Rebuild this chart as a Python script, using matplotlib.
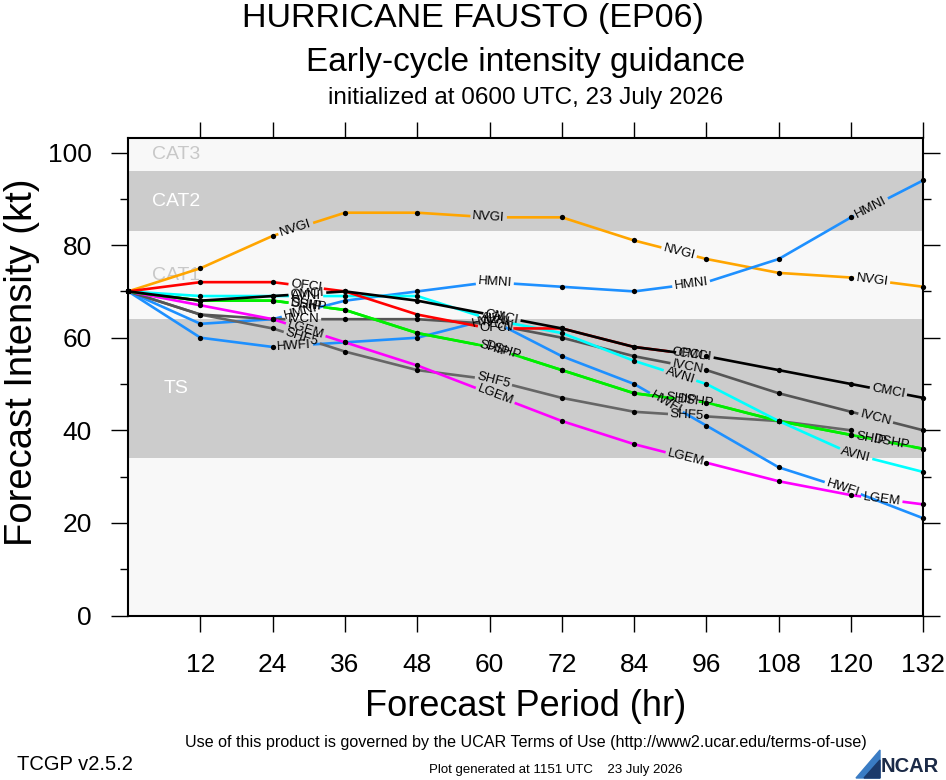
import matplotlib
matplotlib.use('Agg')
import matplotlib.pyplot as plt
from matplotlib.patches import Polygon
import numpy as np

plt.rcParams['font.family'] = ['Liberation Sans', 'DejaVu Sans']

# forecast hours and model intensities (kt)
hours = [0, 12, 24, 36, 48, 60, 72, 84, 96, 108, 120, 132]
nvgi = [70, 75, 82, 87, 87, 86, 86, 81, 77, 74, 73, 71]
hmni = [70, 63, 64, 68, 70, 72, 71, 70, 72, 77, 86, 94]
hwfi = [70, 60, 58, 59, 60, 64, 56, 50, 41, 32, 27, 21]
shf5 = [70, 65, 62, 57, 53, 51, 47, 44, 43, 42, 40]
ivcn = [70, 65, 64, 64, 64, 63, 60, 56, 53, 48, 44, 40]
lgem = [70, 67, 64, 59, 54, 48, 42, 37, 33, 29, 26, 24]
dshp = [70, 68, 68, 66, 61, 58, 53, 48, 46, 42, 39, 36]
ship = [70, 68, 68, 66, 61, 58, 53, 48, 46, 42, 39, 36]
avni = [70, 69, 69, 69, 69, 64, 61, 55, 50, 42, 35, 31]
ofci = [70, 72, 72, 70, 65, 62, 62, 58, 56]
cmci = [70, 68, 69, 70, 68, 65, 62, 58, 56, 53, 50, 47]

model_names = ['NVGI', 'HMNI', 'HWFI', 'SHF5', 'IVCN', 'LGEM', 'DSHP', 'SHIP', 'AVNI', 'OFCI', 'CMCI']
model_vals = [nvgi, hmni, hwfi, shf5, ivcn, lgem, dshp, ship, avni, ofci, cmci]
model_colors = ['#ffa500', '#1e90ff', '#1e90ff', '#666666', '#555555', '#ff00ff',
                '#00ee00', '#00ee00', '#00ffff', '#ff0000', '#000000']

# Saffir-Simpson bands
cat_names = ['TS', 'CAT1', 'CAT2', 'CAT3']
cat_lo = [34, 64, 83, 96]
cat_hi = [64, 83, 96, 113]

W, H = 946, 780
fig = plt.figure(figsize=(W / 100, H / 100), dpi=100)
ax = fig.add_axes([128.2 / W, 1 - 615.5 / H, 795.1 / W, 477.8 / H])
ymax = 103.2
ax.set_xlim(0, 132)
ax.set_ylim(0, ymax)
ax.set_facecolor('#f8f8f8')

for i, (nm, lo, hi) in enumerate(zip(cat_names, cat_lo, cat_hi)):
    shaded = i % 2 == 0
    if shaded:
        ax.axhspan(lo, hi, color='#cccccc', lw=0, zorder=0)
    ax.text(8, (lo + min(hi, ymax)) / 2, nm, fontsize=14, ha='center', va='center',
            color='white' if shaded else '#c8c8c8', zorder=1)

renderer = fig.canvas.get_renderer()
to_px = ax.transData
to_data = ax.transData.inverted()
dash_len = 163  # px of line between labels


def draw_model(name, vals, color, z):
    t = np.array(hours[:len(vals)], dtype=float)
    v = np.array(vals, dtype=float)
    pts = to_px.transform(np.column_stack([t, v]))
    seg = np.hypot(*np.diff(pts, axis=0).T)
    cum = np.concatenate([[0], np.cumsum(seg)])

    def at(s):
        i = min(np.searchsorted(cum, s, side='right') - 1, len(seg) - 1)
        f = (s - cum[i]) / seg[i]
        return pts[i] + f * (pts[i + 1] - pts[i]), i

    probe = ax.text(0, 0, name, fontsize=9.5)
    w = probe.get_window_extent(renderer).width
    probe.remove()

    gaps = []
    k = 0
    while True:
        c = dash_len + w / 2 + k * (dash_len + w)
        if c + w / 2 > cum[-1]:
            break
        gaps.append((c - w / 2 - 2, c + w / 2 + 2, c))
        k += 1

    edges = [0.0]
    for a, b, c in gaps:
        edges += [a, b]
    edges.append(cum[-1])
    for u, e in zip(edges[0::2], edges[1::2]):
        inner = [p for p, s in zip(pts, cum) if u < s < e]
        piece = np.array([at(u)[0]] + inner + [at(e)[0]])
        d = to_data.transform(piece)
        ax.plot(d[:, 0], d[:, 1], color=color, lw=1.9, zorder=z,
                solid_capstyle='butt', clip_on=False)

    keep = [not any(a <= s <= b for a, b, c in gaps) for s in cum]
    ax.plot(t[keep], v[keep], 'o', ms=3.8, color='black', mec='none', zorder=z + 0.5,
            clip_on=False)

    for a, b, c in gaps:
        p, i = at(c)
        dx, dy = pts[i + 1] - pts[i]
        ang = np.degrees(np.arctan2(dy, dx))
        d = to_data.transform([p])[0]
        ax.text(d[0], d[1], name, fontsize=9.5, rotation=ang, rotation_mode='anchor',
                ha='center', va='center', zorder=z + 1)


for n, (name, vals, col) in enumerate(zip(model_names, model_vals, model_colors)):
    draw_model(name, vals, col, 3 + n * 0.1)

ax.set_xticks(hours[1:])
ax.set_yticks(range(0, 101, 20))
ax.set_yticks(range(10, 100, 20), minor=True)
ax.tick_params(axis='x', which='major', direction='out', length=11.3, width=1.0,
               top=True, labelsize=19, pad=16)
ax.tick_params(axis='y', which='major', direction='out', length=12, width=1.0,
               right=True, labelsize=19, pad=14)
ax.tick_params(axis='y', which='minor', direction='out', length=6, width=1.0, right=True)
for sp in ax.spines.values():
    sp.set_linewidth(1.5)

axc = (128.2 + 923.3) / 2 / W
fig.text(0.5, 1 - 18 / H, 'HURRICANE FAUSTO (EP06)', ha='center', va='center', fontsize=24.5)
fig.text(axc, 1 - 62 / H, 'Early-cycle intensity guidance', ha='center', va='center',
         fontsize=24)
fig.text(axc, 1 - 98 / H, 'initialized at 0600 UTC, 23 July 2026', ha='center', va='center',
         fontsize=17.5)
fig.text(axc, 1 - 707 / H, 'Forecast Period (hr)', ha='center', va='center', fontsize=26)
fig.text(22 / W, 1 - 362 / H, 'Forecast Intensity (kt)', ha='center', va='center',
         rotation=90, fontsize=27.5)

fig.text(axc, 1 - 743 / H,
         'Use of this product is governed by the UCAR Terms of Use (http://www2.ucar.edu/terms-of-use)',
         ha='center', va='center', fontsize=11.6)
fig.text(17 / W, 1 - 765 / H, 'TCGP v2.5.2', ha='left', va='center', fontsize=14.5)
fig.text(556 / W, 1 - 770 / H, 'Plot generated at 1151 UTC    23 July 2026', ha='center',
         va='center', fontsize=9.5)

# NCAR logo
fig.patches.append(Polygon([[856 / W, 1 - 778 / H], [880 / W, 1 - 750 / H], [880 / W, 1 - 778 / H]],
                           closed=True, transform=fig.transFigure, color='#3a7cc4'))
fig.patches.append(Polygon([[864 / W, 1 - 778 / H], [880 / W, 1 - 760 / H], [880 / W, 1 - 778 / H]],
                           closed=True, transform=fig.transFigure, color='#1b3a6b'))
fig.text(881 / W, 1 - 766 / H, 'NCAR', ha='left', va='center', fontsize=14.5,
         fontweight='bold', color='#1b2a47')

fig.savefig('out.png', dpi=100)
